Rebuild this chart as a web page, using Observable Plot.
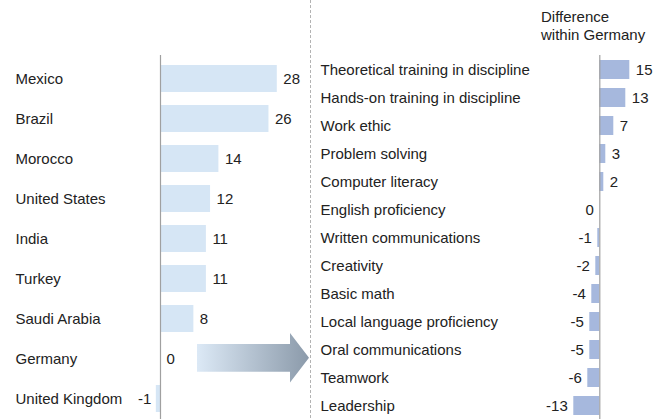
<!DOCTYPE html>
<html>
<head>
<meta charset="utf-8">
<script src="https://cdn.jsdelivr.net/npm/d3@7"></script>
<script src="https://cdn.jsdelivr.net/npm/@observablehq/plot@0.6"></script>
<style>
  html, body { margin: 0; padding: 0; background: #fff; }
  #wrap { position: relative; width: 662px; height: 419px; overflow: hidden; font-family: "Liberation Sans", Arial, sans-serif; color: #222; }
  #left, #right { position: absolute; top: 0; }
  #left { left: 0; }
  #right { left: 310px; }
  #header { position: absolute; left: 541px; top: 7.5px; font-size: 15px; line-height: 18px; color: #222; }
  #deco { position: absolute; left: 0; top: 0; pointer-events: none; }
</style>
</head>
<body>
<div id="wrap">
  <div id="left"></div>
  <div id="right"></div>
  <div id="header">Difference<br>within Germany</div>
  <svg id="deco" width="662" height="419">
    <defs>
      <linearGradient id="arrowGrad" x1="0" x2="1" y1="0" y2="0">
        <stop offset="0" stop-color="#dce9f6"></stop>
        <stop offset="1" stop-color="#8b9aaa"></stop>
      </linearGradient>
    </defs>
    <line x1="310.5" x2="310.5" y1="0" y2="419" stroke="#b3b3b3" stroke-width="1" stroke-dasharray="3,2"></line>
    <polygon points="197,344 290,344 290,333 309,357.8 290,382.5 290,371.7 197,371.7" fill="url(#arrowGrad)"></polygon>
  </svg>
</div>
<script>
const countries = ["Mexico", "Brazil", "Morocco", "United States", "India", "Turkey", "Saudi Arabia", "Germany", "United Kingdom"];
const countryValues = [28, 26, 14, 12, 11, 11, 8, 0, -1];

const skills = ["Theoretical training in discipline", "Hands-on training in discipline", "Work ethic", "Problem solving", "Computer literacy", "English proficiency", "Written communications", "Creativity", "Basic math", "Local language proficiency", "Oral communications", "Teamwork", "Leadership"];
const skillValues = [15, 13, 7, 3, 2, 0, -1, -2, -4, -5, -5, -6, -13];

const leftData = countries.map((name, i) => ({name, value: countryValues[i]}));
const rightData = skills.map((name, i) => ({name, value: skillValues[i]}));

const font = {fontFamily: "'Liberation Sans', Arial, sans-serif", fontSize: "15px", color: "#222", background: "transparent", overflow: "visible"};

const leftPlot = Plot.plot({
  width: 310,
  height: 419,
  marginTop: 55,
  marginBottom: 0,
  marginLeft: 0,
  marginRight: 0,
  style: font,
  x: {domain: [0, 28], range: [160, 276.8], axis: null},
  y: {domain: countries, range: [49.6, 427.5], padding: 0.33, axis: null},
  marks: [
    Plot.barX(leftData, {x: "value", y: "name", fill: "#d6e6f5"}),
    Plot.ruleX([0], {stroke: "#a0a0a0", strokeWidth: 1.2}),
    Plot.text(leftData, {y: "name", text: "name", frameAnchor: "left", dx: 15, textAnchor: "start", fill: "#222"}),
    Plot.text(leftData, {filter: d => d.value >= 0, x: "value", y: "name", text: d => String(d.value), textAnchor: "start", dx: 6, fill: "#222"}),
    Plot.text(leftData, {filter: d => d.value < 0, x: "value", y: "name", text: d => String(d.value), textAnchor: "end", dx: -5, fill: "#222"})
  ]
});
document.getElementById("left").appendChild(leftPlot);

const rightPlot = Plot.plot({
  width: 352,
  height: 419,
  marginTop: 55,
  marginBottom: 0,
  marginLeft: 0,
  marginRight: 0,
  style: font,
  x: {domain: [0, 15], range: [289.3, 319.3], axis: null},
  y: {domain: skills, range: [51.5, 424.5], padding: 0.32, axis: null},
  marks: [
    Plot.barX(rightData, {x: "value", y: "name", fill: "#a6b8dd"}),
    Plot.ruleX([0], {stroke: "#a0a0a0", strokeWidth: 1.2}),
    Plot.text(rightData, {y: "name", text: "name", frameAnchor: "left", dx: 10, textAnchor: "start", fill: "#222"}),
    Plot.text(rightData, {filter: d => d.value > 0, x: "value", y: "name", text: d => String(d.value), textAnchor: "start", dx: 6, fill: "#222"}),
    Plot.text(rightData, {filter: d => d.value <= 0, x: "value", y: "name", text: d => String(d.value), textAnchor: "end", dx: -6, fill: "#222"})
  ]
});
document.getElementById("right").appendChild(rightPlot);
</script>
</body>
</html>
